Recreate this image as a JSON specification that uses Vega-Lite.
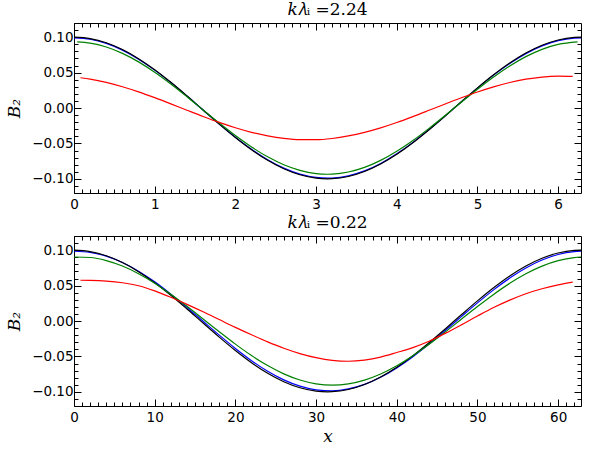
{
"$schema": "https://vega.github.io/schema/vega-lite/v6.json",
"background": "white",
"padding": {"left": 5, "top": 0, "right": 5, "bottom": 5},
"spacing": 2,
"config": {
  "view": {"stroke": "black", "strokeWidth": 1},
  "axis": {"domain": false, "grid": false, "tickColor": "black", "tickWidth": 1, "labelColor": "black", "labelFont": "DejaVu Sans", "labelFontSize": 13.5, "labelFlush": false, "labelOverlap": false, "titleFont": "DejaVu Serif", "titleFontSize": 17, "titleFontStyle": "italic", "titleFontWeight": "normal", "titleColor": "black"},
  "title": {"font": "DejaVu Serif", "fontSize": 17, "fontWeight": "normal", "color": "black", "offset": 4, "frame": "group", "anchor": "middle"},
  "line": {"strokeWidth": 1.2, "interpolate": "monotone"}
},
"datasets": {
"top": [
{"s":"b","x":0,"y":0.099},{"s":"b","x":0.2,"y":0.09703},{"s":"b","x":0.4,"y":0.09118},{"s":"b","x":0.6,"y":0.08171},{"s":"b","x":0.8,"y":0.06897},{"s":"b","x":1.0,"y":0.05349},{"s":"b","x":1.2,"y":0.03587},{"s":"b","x":1.4,"y":0.01683},{"s":"b","x":1.6,"y":-0.00289},{"s":"b","x":1.8,"y":-0.02249},{"s":"b","x":2.0,"y":-0.0412},{"s":"b","x":2.2,"y":-0.05826},{"s":"b","x":2.4,"y":-0.073},{"s":"b","x":2.6,"y":-0.08483},{"s":"b","x":2.8,"y":-0.09328},{"s":"b","x":3.0,"y":-0.09801},{"s":"b","x":3.1416,"y":-0.099},{"s":"b","x":3.2,"y":-0.09883},{"s":"b","x":3.4,"y":-0.09571},{"s":"b","x":3.6,"y":-0.08878},{"s":"b","x":3.8,"y":-0.07831},{"s":"b","x":4.0,"y":-0.06471},{"s":"b","x":4.2,"y":-0.04854},{"s":"b","x":4.4,"y":-0.03043},{"s":"b","x":4.6,"y":-0.0111},{"s":"b","x":4.8,"y":0.00866},{"s":"b","x":5.0,"y":0.02808},{"s":"b","x":5.2,"y":0.04638},{"s":"b","x":5.4,"y":0.06283},{"s":"b","x":5.6,"y":0.07678},{"s":"b","x":5.8,"y":0.08767},{"s":"b","x":6.0,"y":0.09506},{"s":"b","x":6.2,"y":0.09866},{"s":"b","x":6.2832,"y":0.099},
{"s":"k","x":0,"y":0.1},{"s":"k","x":0.2,"y":0.09801},{"s":"k","x":0.4,"y":0.09211},{"s":"k","x":0.6,"y":0.08253},{"s":"k","x":0.8,"y":0.06967},{"s":"k","x":1.0,"y":0.05403},{"s":"k","x":1.2,"y":0.03624},{"s":"k","x":1.4,"y":0.017},{"s":"k","x":1.6,"y":-0.00292},{"s":"k","x":1.8,"y":-0.02272},{"s":"k","x":2.0,"y":-0.04161},{"s":"k","x":2.2,"y":-0.05885},{"s":"k","x":2.4,"y":-0.07374},{"s":"k","x":2.6,"y":-0.08569},{"s":"k","x":2.8,"y":-0.09422},{"s":"k","x":3.0,"y":-0.099},{"s":"k","x":3.1416,"y":-0.1},{"s":"k","x":3.2,"y":-0.09983},{"s":"k","x":3.4,"y":-0.09668},{"s":"k","x":3.6,"y":-0.08968},{"s":"k","x":3.8,"y":-0.0791},{"s":"k","x":4.0,"y":-0.06536},{"s":"k","x":4.2,"y":-0.04903},{"s":"k","x":4.4,"y":-0.03073},{"s":"k","x":4.6,"y":-0.01122},{"s":"k","x":4.8,"y":0.00875},{"s":"k","x":5.0,"y":0.02837},{"s":"k","x":5.2,"y":0.04685},{"s":"k","x":5.4,"y":0.06347},{"s":"k","x":5.6,"y":0.07756},{"s":"k","x":5.8,"y":0.08855},{"s":"k","x":6.0,"y":0.09602},{"s":"k","x":6.2,"y":0.09965},{"s":"k","x":6.2832,"y":0.1},
{"s":"g","x":0.04,"y":0.09343},{"s":"g","x":0.2,"y":0.09164},{"s":"g","x":0.4,"y":0.08612},{"s":"g","x":0.6,"y":0.07717},{"s":"g","x":0.8,"y":0.06514},{"s":"g","x":1.0,"y":0.05052},{"s":"g","x":1.2,"y":0.03388},{"s":"g","x":1.4,"y":0.01589},{"s":"g","x":1.6,"y":-0.00273},{"s":"g","x":1.8,"y":-0.02124},{"s":"g","x":2.0,"y":-0.03891},{"s":"g","x":2.2,"y":-0.05502},{"s":"g","x":2.4,"y":-0.06895},{"s":"g","x":2.6,"y":-0.08012},{"s":"g","x":2.8,"y":-0.0881},{"s":"g","x":3.0,"y":-0.09256},{"s":"g","x":3.1416,"y":-0.0935},{"s":"g","x":3.2,"y":-0.09334},{"s":"g","x":3.4,"y":-0.0904},{"s":"g","x":3.6,"y":-0.08385},{"s":"g","x":3.8,"y":-0.07396},{"s":"g","x":4.0,"y":-0.06112},{"s":"g","x":4.2,"y":-0.04584},{"s":"g","x":4.4,"y":-0.02874},{"s":"g","x":4.6,"y":-0.01049},{"s":"g","x":4.8,"y":0.00818},{"s":"g","x":5.0,"y":0.02652},{"s":"g","x":5.2,"y":0.04381},{"s":"g","x":5.4,"y":0.05934},{"s":"g","x":5.6,"y":0.07252},{"s":"g","x":5.8,"y":0.0828},{"s":"g","x":6.0,"y":0.08978},{"s":"g","x":6.24,"y":0.09341},
{"s":"r","x":0.08,"y":0.04272},{"s":"r","x":0.2,"y":0.04071},{"s":"r","x":0.4,"y":0.03609},{"s":"r","x":0.6,"y":0.03004},{"s":"r","x":0.8,"y":0.02278},{"s":"r","x":1.0,"y":0.01458},{"s":"r","x":1.2,"y":0.00587},{"s":"r","x":1.4,"y":-0.00311},{"s":"r","x":1.6,"y":-0.01197},{"s":"r","x":1.8,"y":-0.02034},{"s":"r","x":2.0,"y":-0.0279},{"s":"r","x":2.2,"y":-0.03434},{"s":"r","x":2.4,"y":-0.0394},{"s":"r","x":2.6,"y":-0.04298},{"s":"r","x":2.8,"y":-0.04477},{"s":"r","x":3.0,"y":-0.04478},{"s":"r","x":3.2,"y":-0.04302},{"s":"r","x":3.4,"y":-0.03947},{"s":"r","x":3.6,"y":-0.03444},{"s":"r","x":3.8,"y":-0.02803},{"s":"r","x":4.0,"y":-0.02049},{"s":"r","x":4.2,"y":-0.01212},{"s":"r","x":4.4,"y":-0.00327},{"s":"r","x":4.6,"y":0.00571},{"s":"r","x":4.8,"y":0.01443},{"s":"r","x":5.0,"y":0.02265},{"s":"r","x":5.2,"y":0.02992},{"s":"r","x":5.4,"y":0.036},{"s":"r","x":5.6,"y":0.04065},{"s":"r","x":5.8,"y":0.04368},{"s":"r","x":6.0,"y":0.04496},{"s":"r","x":6.18,"y":0.04458}
],
"bottom": [
{"s":"b","x":0,"y":0.09847},{"s":"b","x":2,"y":0.097},{"s":"b","x":4,"y":0.09166},{"s":"b","x":6,"y":0.08266},{"s":"b","x":8,"y":0.07037},{"s":"b","x":10,"y":0.05528},{"s":"b","x":12,"y":0.03798},{"s":"b","x":14,"y":0.01916},{"s":"b","x":16,"y":-0.00041},{"s":"b","x":18,"y":-0.01997},{"s":"b","x":20,"y":-0.03874},{"s":"b","x":22,"y":-0.05596},{"s":"b","x":24,"y":-0.07095},{"s":"b","x":26,"y":-0.08311},{"s":"b","x":28,"y":-0.09196},{"s":"b","x":30,"y":-0.09714},{"s":"b","x":32,"y":-0.09845},{"s":"b","x":34,"y":-0.09583},{"s":"b","x":36,"y":-0.08939},{"s":"b","x":38,"y":-0.07939},{"s":"b","x":40,"y":-0.06623},{"s":"b","x":42,"y":-0.05042},{"s":"b","x":44,"y":-0.03261},{"s":"b","x":46,"y":-0.01349},{"s":"b","x":48,"y":0.00616},{"s":"b","x":50,"y":0.02557},{"s":"b","x":52,"y":0.04396},{"s":"b","x":54,"y":0.06059},{"s":"b","x":56,"y":0.07482},{"s":"b","x":58,"y":0.08605},{"s":"b","x":60,"y":0.09386},{"s":"b","x":62,"y":0.09792},{"s":"b","x":62.832,"y":0.09847},
{"s":"k","x":0,"y":0.1},{"s":"k","x":2,"y":0.09801},{"s":"k","x":4,"y":0.09211},{"s":"k","x":6,"y":0.08253},{"s":"k","x":8,"y":0.06967},{"s":"k","x":10,"y":0.05403},{"s":"k","x":12,"y":0.03624},{"s":"k","x":14,"y":0.017},{"s":"k","x":16,"y":-0.00292},{"s":"k","x":18,"y":-0.02272},{"s":"k","x":20,"y":-0.04161},{"s":"k","x":22,"y":-0.05885},{"s":"k","x":24,"y":-0.07374},{"s":"k","x":26,"y":-0.08569},{"s":"k","x":28,"y":-0.09422},{"s":"k","x":30,"y":-0.099},{"s":"k","x":31.416,"y":-0.1},{"s":"k","x":32,"y":-0.09983},{"s":"k","x":34,"y":-0.09668},{"s":"k","x":36,"y":-0.08968},{"s":"k","x":38,"y":-0.0791},{"s":"k","x":40,"y":-0.06536},{"s":"k","x":42,"y":-0.04903},{"s":"k","x":44,"y":-0.03073},{"s":"k","x":46,"y":-0.01122},{"s":"k","x":48,"y":0.00875},{"s":"k","x":50,"y":0.02837},{"s":"k","x":52,"y":0.04685},{"s":"k","x":54,"y":0.06347},{"s":"k","x":56,"y":0.07756},{"s":"k","x":58,"y":0.08855},{"s":"k","x":60,"y":0.09602},{"s":"k","x":62,"y":0.09965},{"s":"k","x":62.832,"y":0.1},
{"s":"g","x":0,"y":0.09034},{"s":"g","x":2,"y":0.08962},{"s":"g","x":4,"y":0.08532},{"s":"g","x":6,"y":0.07762},{"s":"g","x":8,"y":0.06683},{"s":"g","x":10,"y":0.05338},{"s":"g","x":12,"y":0.03779},{"s":"g","x":14,"y":0.0207},{"s":"g","x":16,"y":0.00279},{"s":"g","x":18,"y":-0.01524},{"s":"g","x":20,"y":-0.03266},{"s":"g","x":22,"y":-0.04878},{"s":"g","x":24,"y":-0.06295},{"s":"g","x":26,"y":-0.07461},{"s":"g","x":28,"y":-0.0833},{"s":"g","x":30,"y":-0.08867},{"s":"g","x":32,"y":-0.0905},{"s":"g","x":34,"y":-0.08872},{"s":"g","x":36,"y":-0.08341},{"s":"g","x":38,"y":-0.07477},{"s":"g","x":40,"y":-0.06315},{"s":"g","x":42,"y":-0.04902},{"s":"g","x":44,"y":-0.03293},{"s":"g","x":46,"y":-0.01552},{"s":"g","x":48,"y":0.0025},{"s":"g","x":50,"y":0.02042},{"s":"g","x":52,"y":0.03753},{"s":"g","x":54,"y":0.05314},{"s":"g","x":56,"y":0.06664},{"s":"g","x":58,"y":0.07747},{"s":"g","x":60,"y":0.08522},{"s":"g","x":62,"y":0.08957},{"s":"g","x":62.832,"y":0.09034},
{"s":"r","x":0.8,"y":0.0575},{"s":"r","x":2,"y":0.0573},{"s":"r","x":4,"y":0.0563},{"s":"r","x":6,"y":0.0540},{"s":"r","x":8,"y":0.0498},{"s":"r","x":10,"y":0.0425},{"s":"r","x":12,"y":0.0335},{"s":"r","x":14,"y":0.0235},{"s":"r","x":16,"y":0.013},{"s":"r","x":18,"y":0.002},{"s":"r","x":20,"y":-0.009},{"s":"r","x":22,"y":-0.0195},{"s":"r","x":24,"y":-0.0295},{"s":"r","x":26,"y":-0.0385},{"s":"r","x":28,"y":-0.046},{"s":"r","x":30,"y":-0.0518},{"s":"r","x":32,"y":-0.0556},{"s":"r","x":34,"y":-0.0568},{"s":"r","x":36,"y":-0.0552},{"s":"r","x":38,"y":-0.051},{"s":"r","x":40,"y":-0.0445},{"s":"r","x":42,"y":-0.0375},{"s":"r","x":44,"y":-0.0285},{"s":"r","x":46,"y":-0.0175},{"s":"r","x":48,"y":-0.0055},{"s":"r","x":50,"y":0.007},{"s":"r","x":52,"y":0.019},{"s":"r","x":54,"y":0.0295},{"s":"r","x":56,"y":0.0385},{"s":"r","x":58,"y":0.0455},{"s":"r","x":60,"y":0.051},{"s":"r","x":61.8,"y":0.055}
]
},
"vconcat": [
{
  "width": 507, "height": 170,
  "title": "𝑘𝜆ᵢ =2.24",
  "data": {"name": "top"},
  "layer": [
    {"mark": {"type": "line"},
     "encoding": {
       "x": {"field": "x", "type": "quantitative", "scale": {"domain": [0, 6.2832], "nice": false, "zero": false},
             "axis": {"orient": "bottom", "values": [0,1,2,3,4,5,6], "format": "d", "tickSize": -7, "labelPadding": 11, "title": null}},
       "y": {"field": "y", "type": "quantitative", "scale": {"domain": [-0.12, 0.12], "nice": false, "zero": false},
             "axis": {"orient": "left", "values": [-0.1,-0.05,0,0.05,0.1], "format": ".2f", "tickSize": -7, "labelPadding": 8, "title": "B₂", "titlePadding": 8}},
       "color": {"field": "s", "type": "nominal", "legend": null, "sort": ["b","k","g","r"], "scale": {"domain": ["b","k","g","r"], "range": ["#0000ff","#000000","#008000","#ff0000"]}}
     }},
    {"mark": {"type": "line", "opacity": 0},
     "encoding": {
       "x": {"field": "x", "type": "quantitative", "axis": {"orient": "bottom", "values": [0,0.1,0.2,0.3,0.4,0.5,0.6,0.7,0.8,0.9,1,1.1,1.2,1.3,1.4,1.5,1.6,1.7,1.8,1.9,2,2.1,2.2,2.3,2.4,2.5,2.6,2.7,2.8,2.9,3,3.1,3.2,3.3,3.4,3.5,3.6,3.7,3.8,3.9,4,4.1,4.2,4.3,4.4,4.5,4.6,4.7,4.8,4.9,5,5.1,5.2,5.3,5.4,5.5,5.6,5.7,5.8,5.9,6,6.1,6.2], "labels": false, "tickSize": -4, "title": null}},
       "y": {"field": "y", "type": "quantitative", "axis": {"orient": "left", "values": [-0.11,-0.1,-0.09,-0.08,-0.07,-0.06,-0.05,-0.04,-0.03,-0.02,-0.01,0,0.01,0.02,0.03,0.04,0.05,0.06,0.07,0.08,0.09,0.1,0.11], "labels": false, "tickSize": -4, "title": null}}
     }},
    {"mark": {"type": "line", "opacity": 0},
     "encoding": {
       "x": {"field": "x", "type": "quantitative", "axis": {"orient": "top", "values": [0,1,2,3,4,5,6], "labels": false, "tickSize": -7, "title": null}},
       "y": {"field": "y", "type": "quantitative", "axis": {"orient": "right", "values": [-0.1,-0.05,0,0.05,0.1], "labels": false, "tickSize": -7, "title": null}}
     }},
    {"mark": {"type": "line", "opacity": 0},
     "encoding": {
       "x": {"field": "x", "type": "quantitative", "axis": {"orient": "top", "values": [0,0.1,0.2,0.3,0.4,0.5,0.6,0.7,0.8,0.9,1,1.1,1.2,1.3,1.4,1.5,1.6,1.7,1.8,1.9,2,2.1,2.2,2.3,2.4,2.5,2.6,2.7,2.8,2.9,3,3.1,3.2,3.3,3.4,3.5,3.6,3.7,3.8,3.9,4,4.1,4.2,4.3,4.4,4.5,4.6,4.7,4.8,4.9,5,5.1,5.2,5.3,5.4,5.5,5.6,5.7,5.8,5.9,6,6.1,6.2], "labels": false, "tickSize": -4, "title": null}},
       "y": {"field": "y", "type": "quantitative", "axis": {"orient": "right", "values": [-0.11,-0.1,-0.09,-0.08,-0.07,-0.06,-0.05,-0.04,-0.03,-0.02,-0.01,0,0.01,0.02,0.03,0.04,0.05,0.06,0.07,0.08,0.09,0.1,0.11], "labels": false, "tickSize": -4, "title": null}}
     }}
  ],
  "resolve": {"axis": {"x": "independent", "y": "independent"}}
},
{
  "width": 507, "height": 170,
  "title": "𝑘𝜆ᵢ =0.22",
  "data": {"name": "bottom"},
  "layer": [
    {"mark": {"type": "line"},
     "encoding": {
       "x": {"field": "x", "type": "quantitative", "scale": {"domain": [0, 62.832], "nice": false, "zero": false},
             "axis": {"orient": "bottom", "values": [0,10,20,30,40,50,60], "format": "d", "tickSize": -7, "labelPadding": 11, "title": "x", "titlePadding": 5}},
       "y": {"field": "y", "type": "quantitative", "scale": {"domain": [-0.12, 0.12], "nice": false, "zero": false},
             "axis": {"orient": "left", "values": [-0.1,-0.05,0,0.05,0.1], "format": ".2f", "tickSize": -7, "labelPadding": 8, "title": "B₂", "titlePadding": 8}},
       "color": {"field": "s", "type": "nominal", "legend": null, "sort": ["b","k","g","r"], "scale": {"domain": ["b","k","g","r"], "range": ["#0000ff","#000000","#008000","#ff0000"]}}
     }},
    {"mark": {"type": "line", "opacity": 0},
     "encoding": {
       "x": {"field": "x", "type": "quantitative", "axis": {"orient": "bottom", "values": [0,1,2,3,4,5,6,7,8,9,10,11,12,13,14,15,16,17,18,19,20,21,22,23,24,25,26,27,28,29,30,31,32,33,34,35,36,37,38,39,40,41,42,43,44,45,46,47,48,49,50,51,52,53,54,55,56,57,58,59,60,61,62], "labels": false, "tickSize": -4, "title": null}},
       "y": {"field": "y", "type": "quantitative", "axis": {"orient": "left", "values": [-0.11,-0.1,-0.09,-0.08,-0.07,-0.06,-0.05,-0.04,-0.03,-0.02,-0.01,0,0.01,0.02,0.03,0.04,0.05,0.06,0.07,0.08,0.09,0.1,0.11], "labels": false, "tickSize": -4, "title": null}}
     }},
    {"mark": {"type": "line", "opacity": 0},
     "encoding": {
       "x": {"field": "x", "type": "quantitative", "axis": {"orient": "top", "values": [0,10,20,30,40,50,60], "labels": false, "tickSize": -7, "title": null}},
       "y": {"field": "y", "type": "quantitative", "axis": {"orient": "right", "values": [-0.1,-0.05,0,0.05,0.1], "labels": false, "tickSize": -7, "title": null}}
     }},
    {"mark": {"type": "line", "opacity": 0},
     "encoding": {
       "x": {"field": "x", "type": "quantitative", "axis": {"orient": "top", "values": [0,1,2,3,4,5,6,7,8,9,10,11,12,13,14,15,16,17,18,19,20,21,22,23,24,25,26,27,28,29,30,31,32,33,34,35,36,37,38,39,40,41,42,43,44,45,46,47,48,49,50,51,52,53,54,55,56,57,58,59,60,61,62], "labels": false, "tickSize": -4, "title": null}},
       "y": {"field": "y", "type": "quantitative", "axis": {"orient": "right", "values": [-0.11,-0.1,-0.09,-0.08,-0.07,-0.06,-0.05,-0.04,-0.03,-0.02,-0.01,0,0.01,0.02,0.03,0.04,0.05,0.06,0.07,0.08,0.09,0.1,0.11], "labels": false, "tickSize": -4, "title": null}}
     }}
  ],
  "resolve": {"axis": {"x": "independent", "y": "independent"}}
}
]
}
